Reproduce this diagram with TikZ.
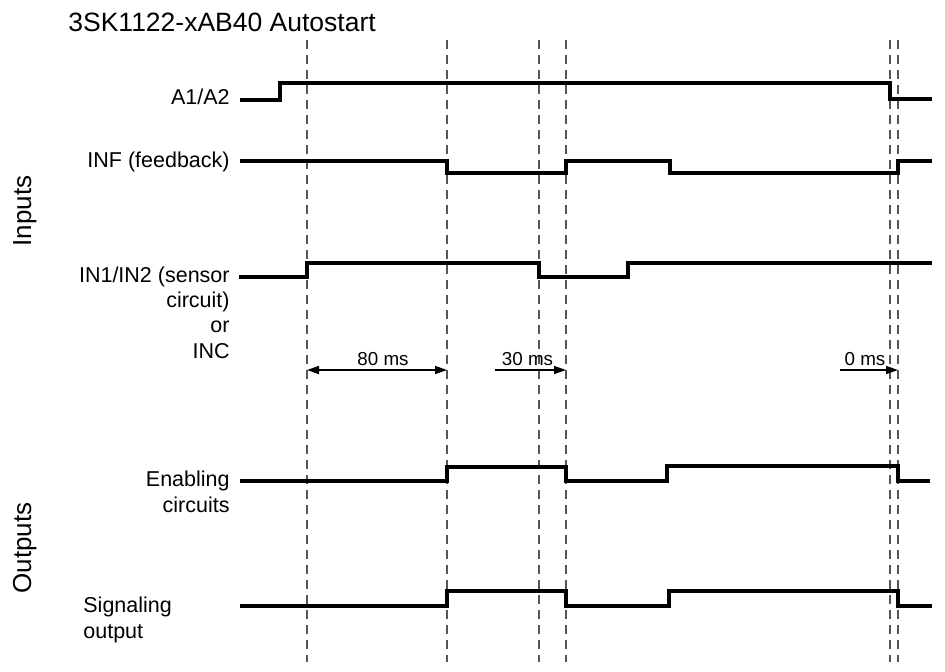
\documentclass[tikz,border=0pt]{standalone}
\usepackage{fontspec}
\setmainfont{Liberation Sans}
\usetikzlibrary{positioning,arrows.meta}
\definecolor{guidec}{HTML}{555555}
\tikzset{
  wave/.style={line width=1.6pt, line join=miter, line cap=butt},
  guide/.style={draw=guidec, line width=0.55pt, dash pattern=on 4.5pt off 3pt},
  siglbl/.style={inner sep=0pt, font=\fontsize{10.75}{12.6}\selectfont},
  grouplbl/.style={inner sep=0pt, rotate=90, anchor=base, font=\fontsize{13}{15}\selectfont},
  dur/.style={line width=0.75pt, -{Triangle[length=6pt,width=4pt]}},
  durlbl/.style={above, inner sep=2pt, font=\fontsize{9.4}{11}\selectfont},
  >=Stealth,
}
\begin{document}
\begin{tikzpicture}[x=0.5pt, y=-0.5pt]
\useasboundingbox (0,0) rectangle (945,671);

\node[anchor=base west, inner sep=0pt, font=\fontsize{13.25}{15}\selectfont] (title) at (68,31.5) {3SK1122-xAB40 Autostart};

% time marks
\foreach \n/\x in {a/307, b/447, c/539, d/566, e/890, f/898} {
  \coordinate (t\n) at (\x,370);
  \draw[guide] (\x,40) -- (\x,662);
}

% group labels
\node[grouplbl] (inputs) at (31,211) {Inputs};
\node[grouplbl] (outputs) at (31,548) {Outputs};

% signal labels (base = last line)
\node[siglbl, anchor=base east] (a1a2) at (230,104) {A1/A2};
\node[siglbl, anchor=base east] (inf) at (230,167) {INF (feedback)};
\node[siglbl, anchor=base east, align=right] (inc) at (230,358) {IN1/IN2 (sensor\\circuit)\\or\\INC};
\node[siglbl, anchor=base east, align=right] (enab) at (230,512) {Enabling\\circuits};
\node[siglbl, anchor=base west, align=left] (signal) at (83,638) {Signaling\\output};

% waveforms
\draw[wave] (240,100) -- (280,100) -- (280,83) -- (890,83) -- (890,99) -- (932,99);
\draw[wave] (240,161) -- (447,161) -- (447,173) -- (566,173) -- (566,161) -- (670,161)
  -- (670,173) -- (898,173) -- (898,161) -- (932,161);
\draw[wave] (239,277) -- (307,277) -- (307,263) -- (539,263) -- (539,277) -- (628,277)
  -- (628,263) -- (932,263);
\draw[wave] (240,481) -- (447,481) -- (447,467) -- (566,467) -- (566,481) -- (667,481)
  -- (667,466) -- (898,466) -- (898,481) -- (930,481);
\draw[wave] (240,606) -- (447,606) -- (447,591) -- (566,591) -- (566,606) -- (669,606)
  -- (669,591) -- (898,591) -- (898,606) -- (932,606);

% durations
\coordinate (s30) at (495,370);
\coordinate (s0) at (840,370);
\draw[dur, {Triangle[length=6pt,width=4pt]}-{Triangle[length=6pt,width=4pt]}] (ta) -- node[durlbl, xshift=3pt] (l80) {80 ms} (tb);
\draw[dur] (s30) -- node[durlbl, xshift=-1.5pt] (l30) {30 ms} (td);
\draw[dur] (s0) -- node[durlbl, xshift=-2pt] (l0) {0 ms} (tf);
\end{tikzpicture}
\end{document}
